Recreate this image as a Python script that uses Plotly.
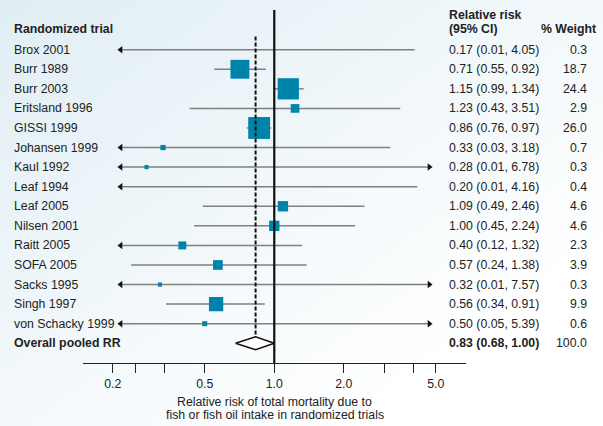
import math
import urllib.parse
import plotly.graph_objects as go

# ---------------- data ----------------
trials = ["Brox 2001", "Burr 1989", "Burr 2003", "Eritsland 1996", "GISSI 1999",
          "Johansen 1999", "Kaul 1992", "Leaf 1994", "Leaf 2005", "Nilsen 2001",
          "Raitt 2005", "SOFA 2005", "Sacks 1995", "Singh 1997", "von Schacky 1999"]
rr = [0.17, 0.71, 1.15, 1.23, 0.86, 0.33, 0.28, 0.20, 1.09, 1.00, 0.40, 0.57, 0.32, 0.56, 0.50]
ci_low = [0.01, 0.55, 0.99, 0.43, 0.76, 0.03, 0.01, 0.01, 0.49, 0.45, 0.12, 0.24, 0.01, 0.34, 0.05]
ci_high = [4.05, 0.92, 1.34, 3.51, 0.97, 3.18, 6.78, 4.16, 2.46, 2.24, 1.32, 1.38, 7.57, 0.91, 5.39]
weights = [0.3, 18.7, 24.4, 2.9, 26.0, 0.7, 0.3, 0.4, 4.6, 4.6, 2.3, 3.9, 0.3, 9.9, 0.6]

overall_label = "Overall pooled RR"
overall_rr = 0.83
overall_low = 0.68
overall_high = 1.00
overall_weight = 100.0

tick_vals = [0.2, 0.25, 1 / 3, 0.5, 1.0, 2.0, 3.0, 4.0, 5.0]
tick_text = ["0.2", "", "", "0.5", "1.0", "2.0", "", "", "5.0"]

header_left = "Randomized trial"
header_rr = ["Relative risk", "(95% CI)"]
header_w = "% Weight"
axis_title = ["Relative risk of total mortality due to",
              "fish or fish oil intake in randomized trials"]

# ---------------- layout constants ----------------
W, H = 603, 426
ML, MR, MT, MB = 83, 137, 0, 63
PW = W - ML - MR
ROW0, ROWSTEP = 49.7, 19.57
PH = H - MT - MB
y_top = (0 - ROW0) / ROWSTEP
y_bot = (PH - ROW0) / ROWSTEP
CLIP_LO, CLIP_HI = 0.2164, 4.69

FONT = "Liberation Sans, Arial, Helvetica, sans-serif"
FS = 12.3
TXT = "#222222"
BLUE = "#0083a8"
LINEC = "#808080"


def px_to_paper(px):
    return (px - ML) / PW


fig = go.Figure()

# CI lines
lx, ly = [], []
arrows_l_x, arrows_l_y, arrows_r_x, arrows_r_y = [], [], [], []
for i, (l, h) in enumerate(zip(ci_low, ci_high)):
    a = max(l, CLIP_LO)
    b = min(h, CLIP_HI)
    lx += [a, b, None]
    ly += [i, i, None]
    if l < CLIP_LO:
        arrows_l_x.append(CLIP_LO)
        arrows_l_y.append(i)
    if h > CLIP_HI:
        arrows_r_x.append(CLIP_HI)
        arrows_r_y.append(i)

fig.add_trace(go.Scatter(x=lx, y=ly, mode="lines",
                         line=dict(color=LINEC, width=1.5), hoverinfo="skip"))
fig.add_trace(go.Scatter(x=arrows_l_x, y=arrows_l_y, mode="markers",
                         marker=dict(symbol="triangle-left", size=6.5, color="#111111"),
                         hoverinfo="skip"))
fig.add_trace(go.Scatter(x=arrows_r_x, y=arrows_r_y, mode="markers",
                         marker=dict(symbol="triangle-right", size=6.5, color="#111111"),
                         hoverinfo="skip"))

# squares (only those inside the clipped range)
sx, sy, ss = [], [], []
for i, (r, w) in enumerate(zip(rr, weights)):
    if CLIP_LO < r < CLIP_HI:
        sx.append(r)
        sy.append(i)
        ss.append(2 + 3.9 * math.sqrt(w))
fig.add_trace(go.Scatter(x=sx, y=sy, mode="markers",
                         marker=dict(symbol="square", size=ss, color=BLUE, opacity=1,
                                     line=dict(width=0)),
                         hoverinfo="skip"))

n = len(trials)
# solid line of no effect
fig.add_trace(go.Scatter(x=[1.0, 1.0], y=[-2.03, y_bot], mode="lines",
                         line=dict(color="#111111", width=2.2), hoverinfo="skip"))
# dashed pooled line
dh = 0.33
fig.add_trace(go.Scatter(x=[overall_rr, overall_rr], y=[-0.67, n - dh], mode="lines",
                         line=dict(color="#111111", width=2, dash="4px,2px"), hoverinfo="skip"))
# diamond
fig.add_trace(go.Scatter(x=[overall_low, overall_rr, overall_high, overall_rr, overall_low],
                         y=[n, n - dh, n, n + dh, n], mode="lines", fill="toself",
                         fillcolor="white", line=dict(color="#111111", width=1.6),
                         hoverinfo="skip"))

ann = []


def add_text(text, x_px, y, anchor="left", bold=False):
    ann.append(dict(text=("<b>%s</b>" % text) if bold else text,
                    x=px_to_paper(x_px), xref="paper", y=y, yref="y",
                    xanchor=anchor, yanchor="middle", showarrow=False,
                    font=dict(family=FONT, size=FS, color=TXT)))


hy = (29 - ROW0) / ROWSTEP
hy2 = (15 - ROW0) / ROWSTEP
add_text(header_left, 12, hy, bold=True)
add_text(header_rr[0], 447, hy2, bold=True)
add_text(header_rr[1], 447, hy, bold=True)
add_text(header_w, 598, hy, anchor="right", bold=True)

for i, t in enumerate(trials):
    add_text(t, 12, i)
    add_text("%.2f (%.2f, %.2f)" % (rr[i], ci_low[i], ci_high[i]), 447, i)
    add_text("%.1f" % weights[i], 589, i, anchor="right")

add_text(overall_label, 12, n, bold=True)
add_text("%.2f (%.2f, %.2f)" % (overall_rr, overall_low, overall_high), 447, n, bold=True)
add_text("%.1f" % overall_weight, 589, n, anchor="right")

for k, line in enumerate(axis_title):
    ypx = 402 + 13 * k
    ann.append(dict(text=line, x=0.5, xref="paper", y=(PH - ypx) / PH, yref="paper",
                    xanchor="center", yanchor="middle", showarrow=False,
                    font=dict(family=FONT, size=FS, color=TXT)))

grad_svg = ("<svg xmlns='http://www.w3.org/2000/svg' width='603' height='426'>"
            "<defs><linearGradient id='g' x1='0' y1='0' x2='1' y2='1'>"
            "<stop offset='0' stop-color='#e0eef4'/><stop offset='0.8' stop-color='#ffffff'/>"
            "</linearGradient></defs><rect width='603' height='426' fill='url(#g)'/></svg>")
grad_uri = "data:image/svg+xml;charset=utf-8," + urllib.parse.quote(grad_svg)

fig.update_layout(
    width=W, height=H,
    margin=dict(l=ML, r=MR, t=MT, b=MB, pad=0),
    paper_bgcolor="white", plot_bgcolor="rgba(0,0,0,0)",
    showlegend=False,
    annotations=ann,
    images=[dict(source=grad_uri, xref="paper", yref="paper",
                 x=-ML / PW, y=1 + MT / PH, sizex=W / PW, sizey=H / PH,
                 xanchor="left", yanchor="top", sizing="stretch", layer="below")],
    xaxis=dict(type="log", range=[-0.828, 0.83], tickvals=tick_vals, ticktext=tick_text,
               ticks="outside", ticklen=9, tickwidth=1.3, tickcolor="#222222",
               showline=True, linecolor="#222222", linewidth=1.3,
               showgrid=False, zeroline=False, fixedrange=True,
               tickfont=dict(family=FONT, size=FS, color=TXT)),
    yaxis=dict(range=[y_bot, y_top], visible=False, showgrid=False, zeroline=False,
               fixedrange=True),
)

fig.write_html("out.html", config={"displayModeBar": False},
               post_script="document.body.style.margin='0';document.body.style.overflow='hidden';")
